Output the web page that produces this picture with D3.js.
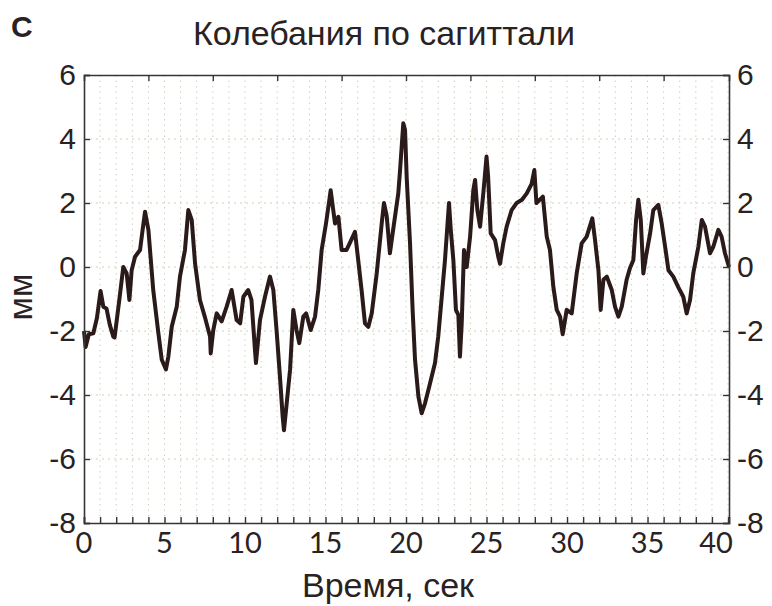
<!DOCTYPE html>
<html>
<head>
<meta charset="utf-8">
<script src="https://cdn.jsdelivr.net/npm/d3@7"></script>
<style>
  body { margin: 0; background: #fff; }
  text { fill: #2a2222; }
</style>
</head>
<body>
<div id="chart"></div>
<script>
// readings taken off the trace: time (s) and sagittal sway (mm)
const timeSec = [0.0, 0.1, 0.3, 0.58, 0.8, 1.03, 1.2, 1.4, 1.6, 1.82, 1.9, 2.2, 2.44, 2.65, 2.82, 2.96,
    3.17, 3.48, 3.64, 3.79, 4.0, 4.3, 4.62, 4.83, 5.09, 5.24, 5.45, 5.76, 5.96, 6.27, 6.48, 6.69,
    6.9, 7.2, 7.5, 7.83, 7.87, 8.03, 8.24, 8.55, 8.86, 9.17, 9.48, 9.7, 9.9, 10.2, 10.4, 10.62,
    10.68, 10.93, 11.24, 11.55, 11.76, 11.96, 12.17, 12.34, 12.42, 12.59, 12.8, 13.0, 13.2, 13.37,
    13.62, 13.8, 14.08, 14.35, 14.55, 14.76, 15.03, 15.24, 15.32, 15.59, 15.8, 16.0, 16.3, 16.5,
    16.83, 17.03, 17.24, 17.45, 17.66, 17.87, 18.18, 18.49, 18.63, 18.8, 19.0, 19.2, 19.52, 19.63,
    19.83, 19.94, 20.04, 20.25, 20.41, 20.56, 20.77, 20.97, 21.18, 21.49, 21.8, 22.0, 22.22, 22.42,
    22.67, 22.78, 22.94, 23.1, 23.25, 23.35, 23.46, 23.6, 23.77, 23.98, 24.18, 24.29, 24.43, 24.6,
    24.8, 25.0, 25.1, 25.26, 25.53, 25.73, 25.84, 26.04, 26.25, 26.56, 26.87, 27.2, 27.5, 27.8,
    27.97, 28.1, 28.3, 28.5, 28.74, 28.94, 29.15, 29.36, 29.57, 29.73, 29.98, 30.29, 30.6, 30.91,
    31.22, 31.57, 31.74, 31.95, 32.09, 32.26, 32.47, 32.78, 32.98, 33.19, 33.4, 33.7, 33.9, 34.12,
    34.29, 34.43, 34.58, 34.74, 34.9, 35.16, 35.36, 35.67, 35.88, 36.09, 36.3, 36.6, 36.9, 37.22,
    37.43, 37.64, 37.84, 38.16, 38.37, 38.57, 38.88, 39.09, 39.4, 39.6, 39.81, 40.06];

const swayMm = [-2.0, -2.5, -2.1, -2.07, -1.6, -0.75, -1.24, -1.3, -1.8, -2.18, -2.2, -1.0, 0.0, -0.2, -1.03, -0.1,
    0.32, 0.53, 1.16, 1.73, 1.16, -0.72, -2.07, -2.9, -3.2, -2.8, -1.87, -1.24, -0.3, 0.53, 1.78, 1.47,
    0.1, -1.03, -1.55, -2.18, -2.7, -1.97, -1.45, -1.7, -1.24, -0.72, -1.66, -1.76, -0.93, -0.72, -1.03, -2.6,
    -3.0, -1.66, -0.93, -0.3, -0.72, -1.97, -3.43, -4.68, -5.1, -4.26, -3.2, -1.34, -1.97, -2.38,
    -1.55, -1.45, -1.97, -1.55, -0.72, 0.53, 1.36, 2.1, 2.4, 1.36, 1.57, 0.53, 0.53, 0.74,
    1.1, 0.22, -0.72, -1.76, -1.87, -1.45, -0.2, 1.36, 2.0, 1.6, 0.43, 1.16, 2.3, 3.03,
    4.49, 4.28, 2.82, 0.74, -1.34, -2.9, -4.05, -4.57, -4.26, -3.64, -3.0, -2.18, -0.93, 0.22,
    2.0, 1.16, 0.22, -1.34, -1.5, -2.8, -1.76, 0.53, 0.0, 0.95, 2.4, 2.72, 1.78, 1.26,
    2.3, 3.45, 2.82, 1.05, 0.84, 0.32, 0.1, 0.74, 1.26, 1.78, 2.0, 2.1, 2.3, 2.6,
    3.03, 2.0, 2.1, 2.2, 0.95, 0.53, -0.62, -1.34, -1.55, -2.1, -1.34, -1.45, -0.2, 0.74,
    0.95, 1.52, 0.84, -0.1, -1.34, -0.4, -0.3, -0.72, -1.24, -1.55, -1.24, -0.4, -0.05, 0.22,
    1.47, 2.1, 1.47, -0.2, 0.32, 1.05, 1.78, 1.94, 1.36, 0.64, -0.1, -0.3, -0.62, -0.93,
    -1.45, -1.03, -0.2, 0.64, 1.47, 1.26, 0.43, 0.64, 1.16, 0.95, 0.43, 0.0];

const xLabelTicks = [0, 5, 10, 15, 20, 25, 30, 35, 40];
const yLabelTicks = [-8, -6, -4, -2, 0, 2, 4, 6];
const titleText = 'Колебания по сагиттали';
const xAxisTitle = 'Время, сек';
const yAxisTitle = 'мм';
const panelLetter = 'C';

const width = 772;
const height = 606;
const margin = { top: 75, right: 43, bottom: 83, left: 84 };

const svg = d3.select('#chart')
    .append('svg')
    .attr('width', width)
    .attr('height', height);

const x = d3.scaleLinear()
    .domain([0, 40.06])
    .range([margin.left, width - margin.right]);

const y = d3.scaleLinear()
    .domain([-8, 6])
    .range([height - margin.bottom, margin.top]);

const gridColor = '#d2d0b8';

// dotted grid, every second and every 2 mm
svg.append('g')
    .selectAll('line')
    .data(d3.range(1, 41))
    .enter()
    .append('line')
    .attr('x1', d => x(d)).attr('x2', d => x(d))
    .attr('y1', y(6)).attr('y2', y(-8))
    .attr('stroke', gridColor)
    .attr('stroke-width', 1)
    .attr('stroke-dasharray', '1.5,4');

svg.append('g')
    .selectAll('line')
    .data([-6, -4, -2, 0, 2, 4])
    .enter()
    .append('line')
    .attr('x1', x(0)).attr('x2', x(40.06))
    .attr('y1', d => y(d)).attr('y2', d => y(d))
    .attr('stroke', gridColor)
    .attr('stroke-width', 1)
    .attr('stroke-dasharray', '2,4');

// the trace
const line = d3.line()
    .x((d, i) => x(timeSec[i]))
    .y(d => y(d));

svg.append('path')
    .datum(swayMm)
    .attr('d', line)
    .attr('fill', 'none')
    .attr('stroke', '#2b1a1a')
    .attr('stroke-width', 4)
    .attr('stroke-linejoin', 'round');

// axes with inward ticks
const axisColor = '#3a3333';

const bottomAxis = svg.append('g')
    .attr('transform', `translate(0,${y(-8)})`)
    .call(d3.axisBottom(x).tickValues(d3.range(0, 41)).tickSize(-6).tickFormat(''));

const topAxis = svg.append('g')
    .attr('transform', `translate(0,${y(6)})`)
    .call(d3.axisTop(x).tickValues(d3.range(4, 40, 4)).tickSize(-6).tickFormat(''));

const leftAxis = svg.append('g')
    .attr('transform', `translate(${x(0)},0)`)
    .call(d3.axisLeft(y).tickValues(yLabelTicks).tickSize(-6).tickFormat(''));

const rightAxis = svg.append('g')
    .attr('transform', `translate(${x(40.06)},0)`)
    .call(d3.axisRight(y).tickValues(yLabelTicks).tickSize(-6).tickFormat(''));

[bottomAxis, topAxis, leftAxis, rightAxis].forEach(g => {
    g.select('.domain').attr('stroke', axisColor).attr('stroke-width', 1.6);
    g.selectAll('.tick line').attr('stroke', axisColor).attr('stroke-width', 1.4);
});

// tick labels (the last one sits left of its tick, as in the scan)
svg.append('g')
    .selectAll('text')
    .data(xLabelTicks)
    .enter()
    .append('text')
    .attr('x', d => x(d) - (d === 40 ? 12 : 0))
    .attr('y', 553)
    .attr('text-anchor', 'middle')
    .style('font-family', 'Lato, sans-serif')
    .style('font-size', '29px')
    .text(d => d);

svg.append('g')
    .selectAll('text')
    .data(yLabelTicks)
    .enter()
    .append('text')
    .attr('x', 76)
    .attr('y', d => y(d) + 10)
    .attr('text-anchor', 'end')
    .style('font-family', '"Liberation Sans", Arial, sans-serif')
    .style('font-size', '30px')
    .text(d => d);

svg.append('g')
    .selectAll('text')
    .data(yLabelTicks)
    .enter()
    .append('text')
    .attr('x', 737)
    .attr('y', d => y(d) + 10)
    .attr('text-anchor', 'start')
    .style('font-family', '"Liberation Sans", Arial, sans-serif')
    .style('font-size', '30px')
    .text(d => d);

// titles
svg.append('text')
    .attr('x', 384)
    .attr('y', 45)
    .attr('text-anchor', 'middle')
    .style('font-family', '"Liberation Sans", Arial, sans-serif')
    .style('font-size', '34px')
    .text(titleText);

svg.append('text')
    .attr('x', 388)
    .attr('y', 597)
    .attr('text-anchor', 'middle')
    .style('font-family', '"Liberation Sans", Arial, sans-serif')
    .style('font-size', '34px')
    .text(xAxisTitle);

svg.append('text')
    .attr('transform', 'translate(32,297) rotate(-90)')
    .attr('text-anchor', 'middle')
    .style('font-family', '"Liberation Sans", Arial, sans-serif')
    .style('font-size', '34px')
    .text(yAxisTitle);

svg.append('text')
    .attr('x', 11)
    .attr('y', 37)
    .style('font-family', '"Liberation Sans", Arial, sans-serif')
    .style('font-size', '30px')
    .style('font-weight', 'bold')
    .text(panelLetter);
</script>
</body>
</html>
